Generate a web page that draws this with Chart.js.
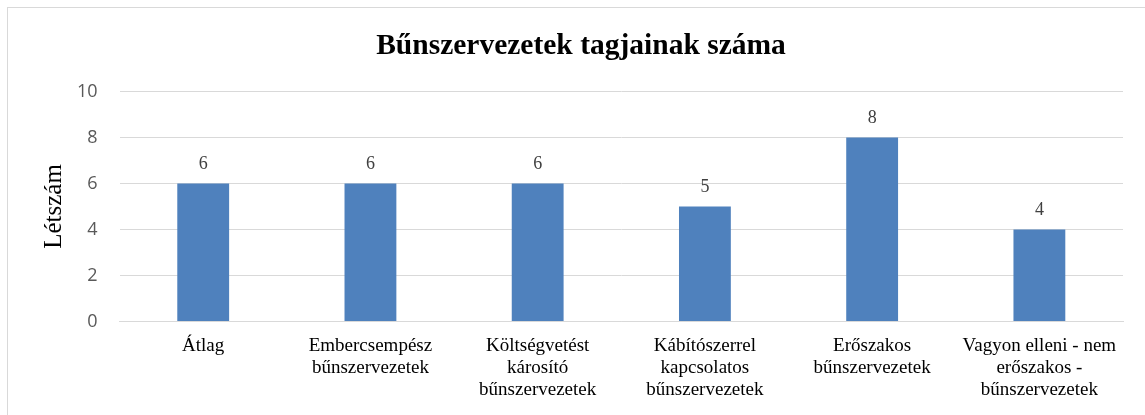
<!DOCTYPE html>
<html>
<head>
<meta charset="utf-8">
<script src="https://cdn.jsdelivr.net/npm/chart.js@4.4.0/dist/chart.umd.min.js"></script>
<style>
    html, body { margin: 0; padding: 0; background: #fff; overflow: hidden; }
    #frame {
        position: absolute; left: 7px; top: 7px; width: 1200px; height: 500px;
        border: 1px solid #d9d9d9; box-sizing: border-box;
    }
    #wrap { position: absolute; left: 0; top: 0; width: 1145px; height: 415px; }
</style>
</head>
<body>
<div id="frame"></div>
<div id="wrap"><canvas id="chart"></canvas></div>
<script>
const categories = [
    ['Átlag'],
    ['Embercsempész', 'bűnszervezetek'],
    ['Költségvetést', 'károsító', 'bűnszervezetek'],
    ['Kábítószerrel', 'kapcsolatos', 'bűnszervezetek'],
    ['Erőszakos', 'bűnszervezetek'],
    ['Vagyon elleni - nem', 'erőszakos -', 'bűnszervezetek']
];
const memberCounts = [6, 6, 6, 5, 8, 4];
const yTicks = [0, 2, 4, 6, 8, 10];

const serif = "'Liberation Serif', 'Times New Roman', serif";

const valueLabels = {
    id: 'valueLabels',
    afterDatasetsDraw(chart) {
        const ctx = chart.ctx;
        const meta = chart.getDatasetMeta(0);
        ctx.save();
        ctx.font = '18px ' + serif;
        ctx.fillStyle = '#404040';
        ctx.textAlign = 'center';
        ctx.textBaseline = 'middle';
        meta.data.forEach((bar, i) => {
            ctx.fillText(String(memberCounts[i]), bar.x, bar.y - 19);
        });
        ctx.restore();
    }
};

new Chart(document.getElementById('chart').getContext('2d'), {
    type: 'bar',
    data: {
        labels: categories,
        datasets: [{
            data: memberCounts,
            backgroundColor: '#4F81BD',
            barPercentage: 0.31,
            categoryPercentage: 1
        }]
    },
    options: {
        responsive: true,
        maintainAspectRatio: false,
        animation: false,
        layout: { padding: { left: 39, right: 22, top: 0, bottom: 8 } },
        plugins: {
            legend: { display: false },
            tooltip: { enabled: false },
            title: {
                display: true,
                text: 'Bűnszervezetek tagjainak száma',
                color: '#000',
                font: { family: serif, size: 29.5, weight: 'bold' },
                padding: { top: 29, bottom: 27 }
            }
        },
        scales: {
            x: {
                grid: { display: false },
                border: { display: true, color: '#d9d9d9', width: 1 },
                ticks: {
                    color: '#000',
                    font: { family: serif, size: 19, lineHeight: 1.15 },
                    padding: 6,
                    maxRotation: 0,
                    autoSkip: false
                }
            },
            y: {
                min: 0,
                max: 10,
                afterBuildTicks(axis) {
                    axis.ticks = yTicks.map(v => ({ value: v }));
                },
                grid: { color: '#d9d9d9', lineWidth: 1, drawTicks: false },
                border: { display: false },
                ticks: {
                    color: '#595959',
                    font: { family: "'Open Sans', sans-serif", size: 18 },
                    padding: 22
                },
                title: {
                    display: true,
                    text: 'Létszám',
                    color: '#000',
                    font: { family: serif, size: 25 },
                    padding: { top: 0, bottom: -14 }
                }
            }
        }
    },
    plugins: [valueLabels]
});
</script>
</body>
</html>
